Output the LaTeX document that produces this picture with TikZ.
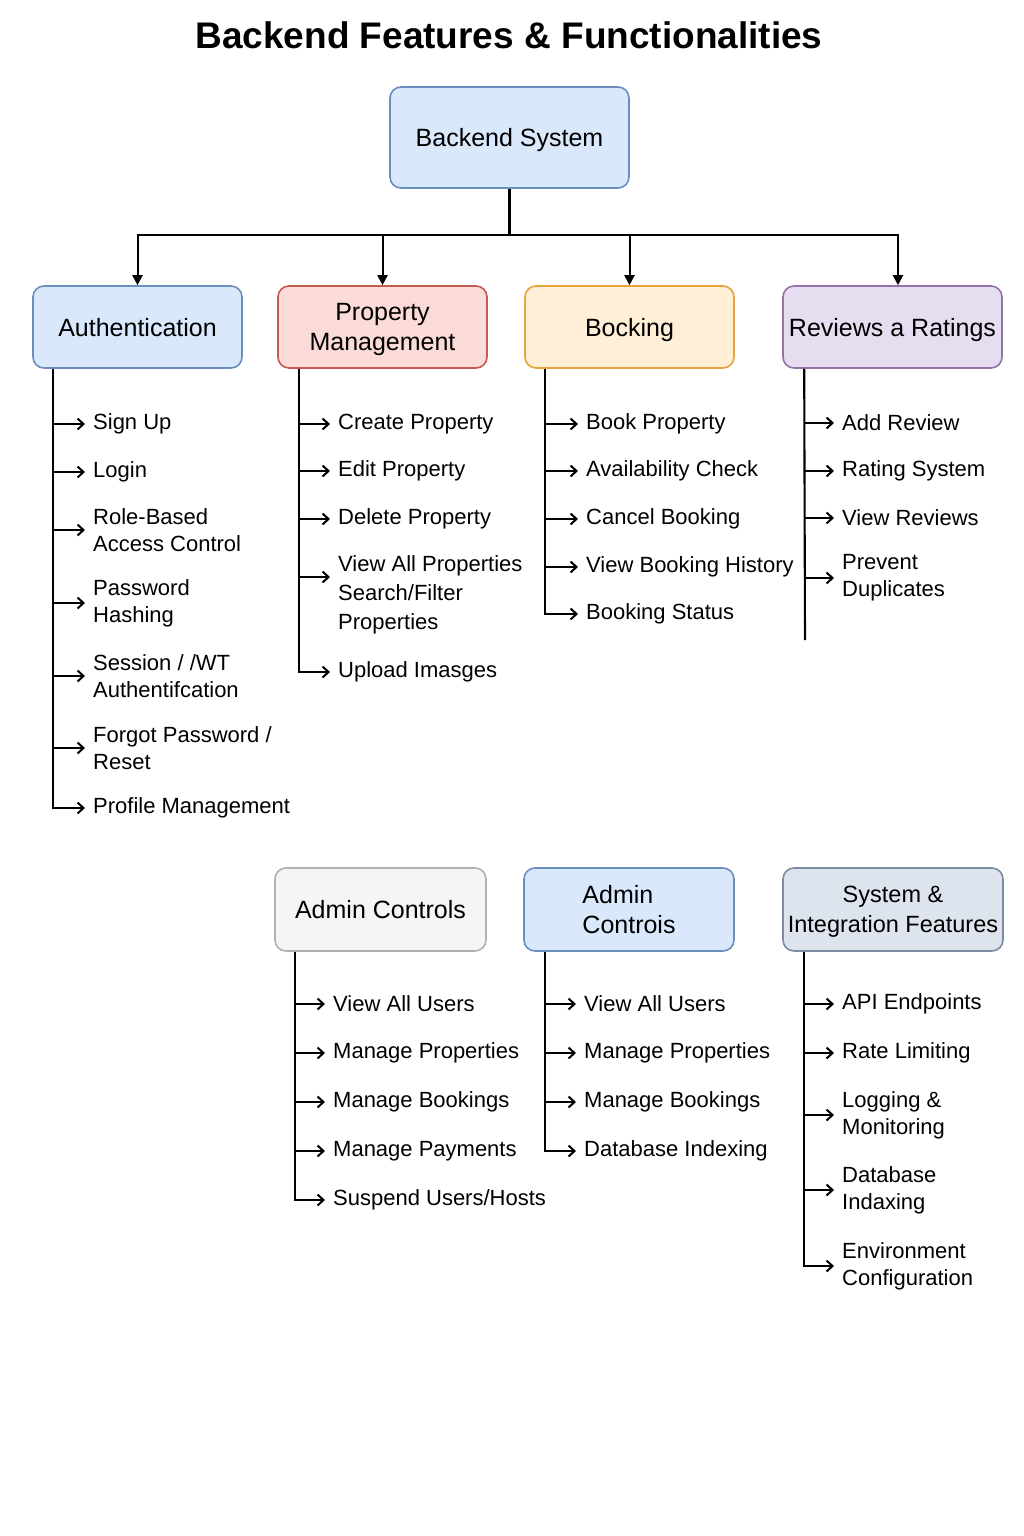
\documentclass[tikz,border=0pt]{standalone}
\usepackage{fontspec}
\setmainfont{Liberation Sans}
\usetikzlibrary{arrows.meta,calc}
\definecolor{bluefill}{HTML}{DAE8FC}
\definecolor{blueline}{HTML}{6C8EBF}
\definecolor{redfill}{HTML}{FADBD8}
\definecolor{redline}{HTML}{C55A55}
\definecolor{orgfill}{HTML}{FFEFD6}
\definecolor{orgline}{HTML}{E8A33A}
\definecolor{purfill}{HTML}{E6DDF0}
\definecolor{purline}{HTML}{9673A6}
\definecolor{grayfill}{HTML}{F5F5F5}
\definecolor{grayline}{HTML}{B0B0B0}
\definecolor{sysfill}{HTML}{DDE4EE}
\definecolor{sysline}{HTML}{7D8CA3}
\begin{document}
\begin{tikzpicture}[x=1pt,y=-1pt,
  box/.style={draw, rounded corners=11pt, line width=1.6pt, align=center,
    font=\fontsize{25}{30}\selectfont, inner sep=0pt, text depth=0pt},
  item/.style={anchor=west, inner xsep=8pt, inner ysep=0pt, align=left,
    font=\fontsize{22}{27}\selectfont},
  trunk/.style={line width=2.1pt},
  sub/.style={line width=2.1pt, -{Straight Barb[length=6pt,width=11pt,line width=2pt]}},
  mainarr/.style={line width=2pt, -{Triangle[length=10pt,width=10pt]}}
]
\useasboundingbox (0,0) rectangle (1024,1536);
\fill[white] (0,0) rectangle (1024,1536);

\node[font=\bfseries\fontsize{37}{44}\selectfont] (title) at (509,35) {Backend Features \& Functionalities};

% top level
\node[box, fill=bluefill, draw=blueline, minimum width=239pt, minimum height=101pt] (backend) at (509.5,137.5) {Backend System};
\node[box, fill=bluefill, draw=blueline, minimum width=209pt, minimum height=82pt] (auth) at (137.5,327) {Authentication};
\node[box, fill=redfill, draw=redline, minimum width=209pt, minimum height=82pt] (prop) at (382.5,327) {Property\\Management};
\node[box, fill=orgfill, draw=orgline, minimum width=209pt, minimum height=82pt] (book) at (629.5,327) {Bocking};
\node[box, fill=purfill, draw=purline, minimum width=219pt, minimum height=82pt] (rev) at (892.5,327) {Reviews a Ratings};

\node[box, fill=grayfill, draw=grayline, minimum width=211pt, minimum height=83pt] (adm) at (380.5,909.5) {Admin Controls};
\node[box, fill=bluefill, draw=blueline, minimum width=210pt, minimum height=83pt, align=left] (adm2) at (629,909.5) {Admin\\Controis};
\node[box, fill=sysfill, draw=sysline, minimum width=220pt, minimum height=83pt, font=\fontsize{23.5}{30}\selectfont] (sys) at (893,909.5) {System \&\\Integration Features};

% bus
\coordinate (busY) at (0,235);
\draw[trunk] (backend.south) -- (backend.south |- busY);
\draw[mainarr] (backend.south |- busY) -| (auth.north);
\draw[mainarr] (backend.south |- busY) -| (prop.north);
\draw[mainarr] (backend.south |- busY) -| (book.north);
\draw[mainarr] (backend.south |- busY) -| ([xshift=5.5pt]rev.north);

% Authentication
\coordinate (aT) at ([xshift=21pt]auth.south west);
\node[item] (a1) at (85,424) {Sign Up};
\node[item] (a2) at (85,472) {Login};
\node[item] (a3) at (85,530) {Role-Based\\Access Control};
\node[item] (a4) at (85,603) {Password\\Hashing};
\node[item] (a5) at (85,676) {Session / /WT\\Authentifcation};
\node[item] (a6) at (85,748) {Forgot Password /\\Reset};
\node[item] (a7) at (85,808) {Profile Management};
\draw[sub] (aT) |- (a7.west);
\foreach \n in {a1,a2,a3,a4,a5,a6} \draw[sub] (aT |- \n.west) -- (\n.west);

% Property Management
\coordinate (pT) at ([xshift=22pt]prop.south west);
\node[item] (p1) at (330,424) {Create Property};
\node[item] (p2) at (330,471) {Edit Property};
\node[item] (p3) at (330,519) {Delete Property};
\node[item, font=\fontsize{22}{29}\selectfont] (p4) at (330,595) {View All Properties\\Search/Filter\\Properties};
\node[item] (p5) at (330,672) {Upload Imasges};
\draw[sub] (pT) |- (p5.west);
\foreach \n in {p1,p2,p3} \draw[sub] (pT |- \n.west) -- (\n.west);
\draw[sub] (pT |- 0,577) -- (p4.west |- 0,577);

% Booking
\coordinate (bT) at ([xshift=21pt]book.south west);
\node[item] (b1) at (578,424) {Book Property};
\node[item] (b2) at (578,471) {Availability Check};
\node[item] (b3) at (578,519) {Cancel Booking};
\node[item] (b4) at (578,567) {View Booking History};
\node[item] (b5) at (578,614) {Booking Status};
\draw[sub] (bT) |- (b5.west);
\foreach \n in {b1,b2,b3,b4} \draw[sub] (bT |- \n.west) -- (\n.west);

% Reviews
\coordinate (rT) at ([xshift=22pt]rev.south west);
\coordinate (rE) at (805,640);
\node[item] (r1) at (834,423) {Add Review};
\node[item] (r2) at (834,471) {Rating System};
\node[item] (r3) at (834,518) {View Reviews};
\node[item] (r4) at (834,578) {Prevent\\Duplicates};
\draw[trunk] (rT) -- (rE);
\foreach \n in {r1,r2,r3,r4} \draw[sub] (rT |- \n.west) -- (\n.west);

% Admin Controls
\coordinate (cT) at ([xshift=21pt]adm.south west);
\node[item] (c1) at (325,1004) {View All Users};
\node[item] (c2) at (325,1053) {Manage Properties};
\node[item] (c3) at (325,1102) {Manage Bookings};
\node[item] (c4) at (325,1151) {Manage Payments};
\node[item] (c5) at (325,1200) {Suspend Users/Hosts};
\draw[sub] (cT) |- (c5.west);
\foreach \n in {c1,c2,c3,c4} \draw[sub] (cT |- \n.west) -- (\n.west);

% Admin Controis
\coordinate (dT) at ([xshift=22pt]adm2.south west);
\node[item] (d1) at (576,1004) {View All Users};
\node[item] (d2) at (576,1053) {Manage Properties};
\node[item] (d3) at (576,1102) {Manage Bookings};
\node[item] (d4) at (576,1151) {Database Indexing};
\draw[sub] (dT) |- (d4.west);
\foreach \n in {d1,d2,d3} \draw[sub] (dT |- \n.west) -- (\n.west);

% System & Integration
\coordinate (sT) at ([xshift=22pt]sys.south west);
\node[item] (s1) at (834,1004) {API Endpoints};
\node[item] (s2) at (834,1053) {Rate Limiting};
\node[item] (s3) at (834,1115) {Logging \&\\Monitoring};
\node[item] (s4) at (834,1190) {Database\\Indaxing};
\node[item] (s5) at (834,1266) {Environment\\Configuration};
\draw[sub] (sT) |- (s5.west);
\foreach \n in {s1,s2,s3,s4} \draw[sub] (sT |- \n.west) -- (\n.west);
\end{tikzpicture}
\end{document}
